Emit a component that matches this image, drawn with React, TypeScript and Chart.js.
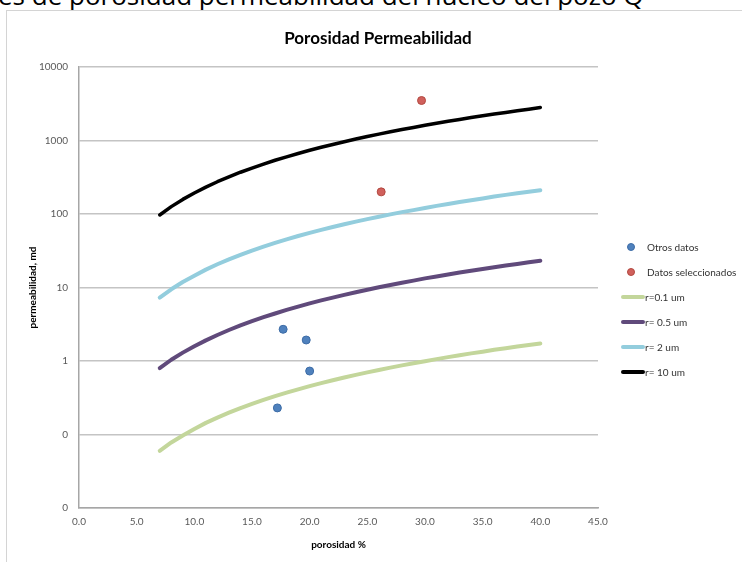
import React, { useEffect, useRef } from "react";
import { Chart, registerables } from "chart.js";

Chart.register(...registerables);

// ---- data ----
const porosity = [7, 8, 9, 10, 11, 12, 13, 14, 15, 16, 17, 18, 19, 20, 21, 22, 23, 24, 25, 26, 27, 28, 29, 30, 31, 32, 33, 34, 35, 36, 37, 38, 39, 40];

const r01 = [0.06, 0.078, 0.097, 0.119, 0.144, 0.17, 0.198, 0.229, 0.261, 0.296, 0.333, 0.371, 0.412, 0.455, 0.5, 0.547, 0.596, 0.647, 0.7, 0.755, 0.812, 0.871, 0.932, 0.995, 1.06, 1.13, 1.2, 1.27, 1.34, 1.42, 1.49, 1.57, 1.65, 1.73];
const r05 = [0.8, 1.04, 1.3, 1.59, 1.91, 2.26, 2.64, 3.05, 3.48, 3.94, 4.43, 4.95, 5.5, 6.07, 6.67, 7.29, 7.95, 8.62, 9.34, 10.1, 10.8, 11.6, 12.4, 13.3, 14.1, 15.0, 16.0, 16.9, 17.9, 18.9, 19.9, 20.9, 22.0, 23.1];
const r2 = [7.3, 9.45, 11.9, 14.5, 17.5, 20.7, 24.1, 27.8, 31.8, 36.0, 40.5, 45.2, 50.2, 55.4, 60.8, 66.5, 72.5, 78.7, 85.2, 91.8, 98.8, 106, 113, 121, 129, 137, 146, 154, 163, 173, 182, 191, 201, 211];
const r10 = [97, 126, 158, 193, 232, 275, 320, 370, 422, 478, 538, 600, 666, 736, 808, 884, 963, 1046, 1132, 1220, 1313, 1408, 1507, 1609, 1714, 1823, 1934, 2050, 2167, 2287, 2412, 2540, 2670, 2803];

const otrosX = [17.7, 19.7, 20.0, 17.2];
const otrosY = [2.7, 1.93, 0.73, 0.23];
const selX = [26.2, 29.7];
const selY = [200, 3500];

const yTickValues = [0.01, 0.1, 1, 10, 100, 1000, 10000];
const yTickLabels = ["0", "0", "1", "10", "100", "1000", "10000"];

const pointNames = ["Otros datos", "Datos seleccionados"];
const pointColors = ["#4f81bd", "#d0605c"];
const pointBorders = ["#3d6ca6", "#b2483f"];
const lineNames = ["r=0.1 um", "r= 0.5 um", "r= 2 um", "r= 10 um"];
const lineColors = ["#c3d69b", "#604a7b", "#93cddd", "#000000"];
const lineWidths = [4, 4, 4, 3.5];

const chartTitle = "Porosidad Permeabilidad";
const xTitle = "porosidad %";
const yTitle = "permeabilidad, md";
const pageHeading = "es de porosidad permeabilidad del núcleo del pozo Q";

export default function App() {
  const ref = useRef<HTMLCanvasElement | null>(null);

  useEffect(() => {
    document.body.style.margin = "0";
    const canvas = ref.current;
    if (!canvas) return;
    const toPts = (xs: number[], ys: number[]) => xs.map((x, i) => ({ x, y: ys[i] }));
    const lineSeries = [r01, r05, r2, r10];

    const datasets: any[] = [
      {
        label: pointNames[0],
        data: toPts(otrosX, otrosY),
        backgroundColor: pointColors[0],
        borderColor: pointBorders[0],
        borderWidth: 1,
        pointRadius: 4,
        showLine: false,
      },
      {
        label: pointNames[1],
        data: toPts(selX, selY),
        backgroundColor: pointColors[1],
        borderColor: pointBorders[1],
        borderWidth: 1,
        pointRadius: 4,
        showLine: false,
      },
      ...lineSeries.map((s, i) => ({
        label: lineNames[i],
        data: toPts(porosity, s),
        borderColor: lineColors[i],
        backgroundColor: lineColors[i],
        borderWidth: lineWidths[i],
        pointRadius: 0,
        showLine: true,
        tension: 0,
        borderCapStyle: "round",
        borderJoinStyle: "round",
      })),
    ];

    const chart = new Chart(canvas, {
      type: "scatter",
      data: { datasets },
      options: {
        animation: false,
        responsive: false,
        devicePixelRatio: 1,
        layout: { padding: { left: 0, right: 144, top: 67, bottom: 0 } },
        plugins: {
          legend: { display: false },
          title: { display: false },
          tooltip: { enabled: false },
        },
        scales: {
          x: {
            type: "linear",
            min: 0,
            max: 45,
            afterFit: (s: any) => {
              s.height = 54;
            },
            ticks: {
              stepSize: 5,
              padding: 8,
              color: "#595959",
              font: { family: "Lato", size: 10 },
              callback: (v: any) => Number(v).toFixed(1),
              maxRotation: 0,
            },
            grid: { display: false, drawTicks: false },
            border: { display: true, color: "#a6a6a6", width: 1.5 },
            title: {
              display: true,
              text: xTitle,
              color: "#000",
              font: { family: "Lato", size: 10, weight: "bold" },
              padding: { top: 0, bottom: 11 },
            },
          },
          y: {
            type: "logarithmic",
            min: 0.01,
            max: 10000,
            afterFit: (s: any) => {
              s.width = 79;
            },
            afterBuildTicks: (s: any) => {
              s.ticks = yTickValues.map((v) => ({ value: v }));
            },
            ticks: {
              padding: 11,
              color: "#595959",
              font: { family: "Lato", size: 10 },
              callback: (v: any) => {
                const idx = yTickValues.findIndex((t) => Math.abs(Math.log10(t) - Math.log10(Number(v))) < 1e-6);
                return idx >= 0 ? yTickLabels[idx] : "";
              },
            },
            grid: { display: true, drawTicks: false, color: "#c4c4c4", lineWidth: 1.5 },
            border: { display: true, color: "#a6a6a6", width: 1.5 },
            title: {
              display: true,
              text: yTitle,
              color: "#000",
              font: { family: "Lato", size: 10, weight: "bold" },
              padding: { top: 27, bottom: 0 },
            },
          },
        },
      } as any,
    });
    return () => chart.destroy();
  }, []);

  const legendItems = [
    ...pointNames.map((n, i) => ({ name: n, kind: "point", color: pointColors[i], border: pointBorders[i] })),
    ...lineNames.map((n, i) => ({ name: n, kind: "line", color: lineColors[i], border: lineColors[i] })),
  ];

  return (
    <div style={{ position: "relative", width: 742, height: 562, overflow: "hidden", background: "#fff" }}>
      <div
        style={{
          position: "absolute",
          left: -2,
          top: -18,
          whiteSpace: "nowrap",
          fontFamily: "'Open Sans', sans-serif",
          fontSize: 26,
          lineHeight: "26px",
          color: "#000",
        }}
      >
        {pageHeading}
      </div>
      <div
        style={{
          position: "absolute",
          left: 6,
          top: 10,
          width: 900,
          height: 900,
          borderLeft: "1.5px solid #d4d4d4",
          borderTop: "1.5px solid #d4d4d4",
        }}
      />
      <canvas ref={ref} width={742} height={562} style={{ position: "absolute", left: 0, top: 0, display: "block" }} />
      <div
        style={{
          position: "absolute",
          left: 0,
          width: 742,
          top: 28,
          textAlign: "center",
          paddingLeft: 14,
          boxSizing: "border-box",
          fontFamily: "Lato, sans-serif",
          fontWeight: "bold",
          fontSize: 17,
          lineHeight: "20px",
          color: "#000",
        }}
      >
        {chartTitle}
      </div>
      {legendItems.map((it, i) => (
        <div
          key={i}
          style={{
            position: "absolute",
            left: 621,
            top: 235 + i * 25,
            height: 24,
            display: "flex",
            alignItems: "center",
            fontFamily: "Lato, sans-serif",
            fontSize: 10,
            color: "#333",
            whiteSpace: "nowrap",
          }}
        >
          {it.kind === "point" ? (
            <span
              style={{
                display: "inline-block",
                width: 8,
                height: 8,
                borderRadius: "50%",
                background: it.color,
                border: `1px solid ${it.border}`,
                boxSizing: "border-box",
                marginLeft: 6,
                marginRight: 12,
              }}
            />
          ) : (
            <span
              style={{
                display: "inline-block",
                width: 24,
                height: 4,
                borderRadius: 2,
                background: it.color,
              }}
            />
          )}
          <span>{it.name}</span>
        </div>
      ))}
    </div>
  );
}
